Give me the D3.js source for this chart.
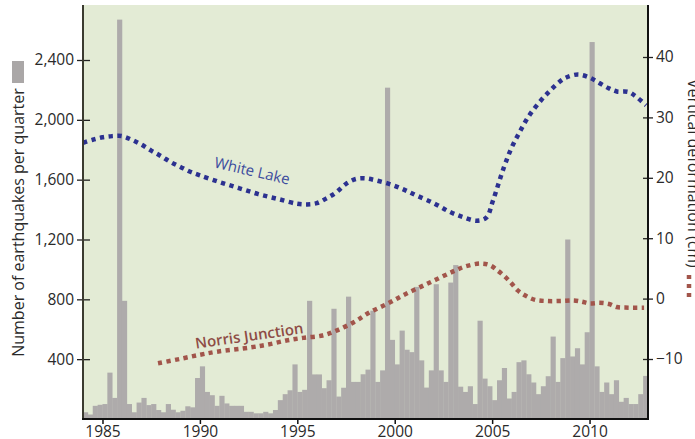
<!DOCTYPE html>
<html><head><meta charset="utf-8">
<script src="https://cdn.jsdelivr.net/npm/d3@7"></script>
<style>
body{margin:0;background:#fff}
svg{display:block}
text{font-family:"Open Sans",sans-serif}
</style>
</head><body>
<svg id="c" width="695" height="439"></svg>
<script>
// ---- data ----
const firstYear = 1984;
const quarterCounts = [
  45,30,88,95, 100,310,141,2670, 790,100,45,110, 141,93,100,60,
  45,100,62,45, 55,85,78,274, 352,181,159,88, 155,104,88,88,
  88,48,48,38, 38,48,38,60, 126,166,192,365, 181,195,790,298,
  298,206,259,737, 150,209,818,248, 248,299,330,724, 248,325,2215,529,
  365,591,463,447, 883,392,210,325, 901,325,248,912, 1029,216,181,219,
  100,657,270,219, 126,259,341,137, 181,380,392,299, 244,166,219,286,
  551,248,407,1200, 418,473,365,580, 2520,352,181,244, 166,259,115,141,
  100,100,166,288
];
const whiteLakeYears = [1984.0,1984.5,1985.0,1985.5,1986.0,1986.5,1987.0,1987.5,1988.0,1988.5,1989.0,1989.5,1990.0,1991.0,1992.0,1993.0,1994.0,1995.0,1995.5,1996.0,1996.5,1997.0,1997.5,1998.0,1998.5,1999.0,1999.8,2000.5,2001.1,2002.0,2002.8,2003.5,2004.2,2004.7,2005.05,2005.6,2006.0,2006.4,2006.9,2007.5,2008.0,2008.5,2008.8,2009.4,2010.0,2010.5,2011.0,2011.4,2012.0,2012.4,2012.9];
const whiteLakeCm    = [25.8,26.3,26.7,26.9,26.9,26.3,25.5,24.5,23.6,22.6,21.8,21.0,20.4,19.3,18.3,17.3,16.5,15.7,15.6,15.8,16.6,17.6,19.0,19.8,19.9,19.6,18.9,18.0,17.1,15.8,14.4,13.5,12.9,13.4,16.3,21.7,25.0,27.5,30.3,32.8,34.5,36.0,36.6,37.1,36.6,35.7,34.8,34.3,34.2,33.4,32.0];
const norrisYears = [1987.85,1988.96,1990.0,1990.85,1992.56,1993.5,1994.5,1995.3,1996.3,1997.0,1997.9,1998.7,1999.6,2000.4,2001.3,2002.15,2003.0,2003.6,2004.4,2004.9,2005.3,2005.7,2006.0,2006.3,2006.7,2007.2,2007.8,2008.5,2009.2,2009.6,2010.0,2010.5,2011.0,2011.4,2012.0,2012.8];
const norrisCm    = [-10.7,-10.0,-9.3,-8.8,-8.1,-7.6,-6.9,-6.5,-6.1,-5.3,-3.9,-2.3,-0.9,0.5,1.9,3.2,4.5,5.3,5.8,5.5,4.6,3.5,2.5,1.4,0.5,-0.2,-0.4,-0.4,-0.3,-0.5,-0.8,-0.7,-0.9,-1.4,-1.5,-1.5];
const xTicks = [1985,1990,1995,2000,2005,2010];
const leftTicks = [400,800,1200,1600,2000,2400];
const rightTicks = [-10,0,10,20,30,40];

// ---- chart ----
const svg = d3.select("#c");
const L = 83, R = 648, T = 5, B = 419;
const x = d3.scaleLinear().domain([1984, 2013]).range([L, R]);
const yL = d3.scaleLinear().domain([0, 2400]).range([B, 60]);
const yR = d3.scaleLinear().domain([-10, 40]).range([359, 57]);

svg.append("rect").attr("x", L).attr("y", T).attr("width", R - L).attr("height", B - T).attr("fill", "#e3ebd5");

const bars = quarterCounts.map((v, i) => ({t: firstYear + i / 4, v}));
svg.append("g").selectAll("rect").data(bars).join("rect")
  .attr("x", d => x(d.t))
  .attr("width", d => x(d.t + 0.25) - x(d.t) + 0.3)
  .attr("y", d => yL(d.v))
  .attr("height", d => B - yL(d.v))
  .attr("fill", "#aeabab");

const line = d3.line().x(d => x(d[0])).y(d => yR(d[1])).curve(d3.curveCatmullRom.alpha(0.5));
svg.append("path").datum(whiteLakeYears.map((t, i) => [t, whiteLakeCm[i]]))
  .attr("d", line).attr("fill", "none").attr("stroke", "#2c3190")
  .attr("stroke-width", 4.5).attr("stroke-dasharray", "4.3,4.5");
svg.append("path").datum(norrisYears.map((t, i) => [t, norrisCm[i]]))
  .attr("d", line).attr("fill", "none").attr("stroke", "#a2554b")
  .attr("stroke-width", 4.5).attr("stroke-dasharray", "4.3,4.3");

// series labels
svg.append("text").attr("transform", "translate(251,176) rotate(13)")
  .attr("text-anchor", "middle").attr("font-size", 15).attr("fill", "#3d4c9e").text("White Lake");
svg.append("text").attr("transform", "translate(250,341) rotate(-8.2)")
  .attr("text-anchor", "middle").attr("font-size", 15).attr("font-weight", 600).attr("fill", "#8e4c45").text("Norris Junction");

// axes
const gL = svg.append("g").attr("transform", `translate(${L},0)`)
  .call(d3.axisLeft(yL).tickValues(leftTicks).tickFormat(d3.format(",")).tickSize(6).tickSizeOuter(0));
gL.select(".domain").remove();
gL.selectAll(".tick line").attr("x1", 7).attr("x2", -6).attr("stroke", "#222").attr("stroke-width", 1.3);
gL.selectAll(".tick text").attr("x", -9).attr("font-size", 15.5).attr("fill", "#2a2a2a").attr("font-family", "Open Sans");
svg.append("line").attr("x1", L).attr("x2", L).attr("y1", T).attr("y2", B + 1).attr("stroke", "#3b3b30").attr("stroke-width", 2);

const gR = svg.append("g").attr("transform", `translate(${R},0)`)
  .call(d3.axisRight(yR).tickValues(rightTicks).tickFormat(d => d < 0 ? "\u2212" + Math.abs(d) : d).tickSize(5).tickSizeOuter(0));
gR.select(".domain").remove();
gR.selectAll(".tick line").attr("x1", -5).attr("x2", 5).attr("stroke", "#222").attr("stroke-width", 1.3);
gR.selectAll(".tick text").attr("x", 8).attr("font-size", 15.5).attr("fill", "#2a2a2a").attr("font-family", "Open Sans");
svg.append("line").attr("x1", R).attr("x2", R).attr("y1", T).attr("y2", B + 1).attr("stroke", "#111").attr("stroke-width", 2);

const gB = svg.append("g").attr("transform", `translate(0,${B})`)
  .call(d3.axisBottom(x).tickValues(xTicks).tickFormat(d3.format("d")).tickSize(5).tickPadding(2).tickSizeOuter(0));
gB.select(".domain").remove();
gB.selectAll(".tick line").attr("stroke", "#111").attr("stroke-width", 1.5);
gB.selectAll(".tick text").attr("font-size", 15.5).attr("fill", "#2a2a2a").attr("font-family", "Open Sans");
svg.append("line").attr("x1", L - 1).attr("x2", R + 1).attr("y1", B).attr("y2", B).attr("stroke", "#111").attr("stroke-width", 2);

// axis titles and legend keys
svg.append("rect").attr("x", 12).attr("y", 61).attr("width", 12).attr("height", 22).attr("fill", "#aaa7a7");
svg.append("text").attr("transform", "translate(24,222.5) rotate(-90)").attr("text-anchor", "middle")
  .attr("font-size", 16).attr("fill", "#2a2a2a").text("Number of earthquakes per quarter");
svg.append("text").attr("transform", "translate(687.5,79) rotate(90)").attr("text-anchor", "start")
  .attr("font-size", 16).attr("fill", "#2a2a2a").text("Vertical deformation (cm)");
svg.append("line").attr("x1", 689).attr("x2", 689).attr("y1", 275).attr("y2", 299)
  .attr("stroke", "#a2554b").attr("stroke-width", 4.5).attr("stroke-dasharray", "4,5");
</script>
</body></html>
